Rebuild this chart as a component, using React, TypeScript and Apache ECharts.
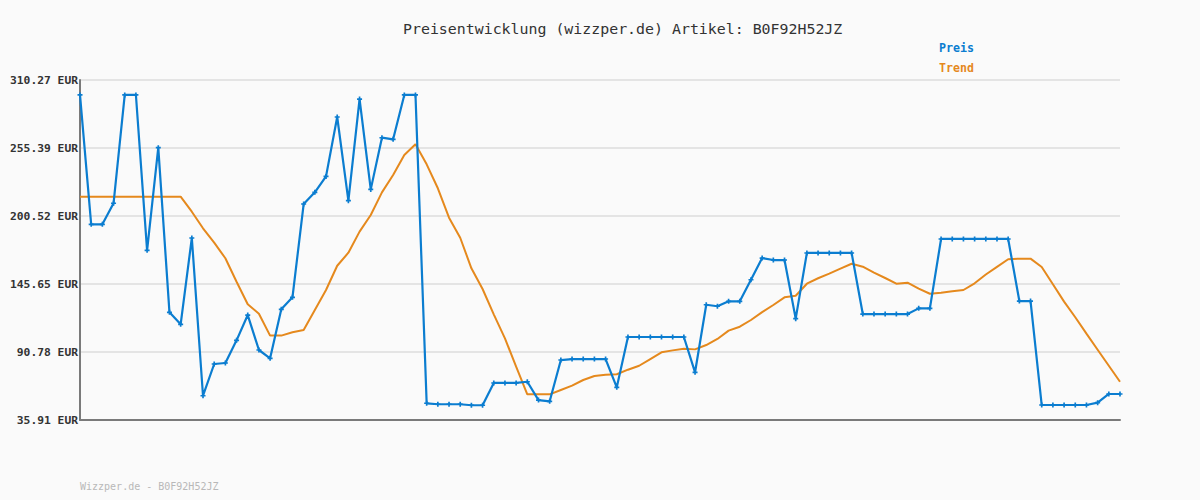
import React, { useEffect, useRef } from "react";
import * as echarts from "echarts";

const preis = [
  298.2, 193.8, 193.8, 210.8, 298.2, 298.2, 172.8, 255.7, 122.8, 113.1,
  182.8, 55.5, 81.1, 81.9, 100.2, 120.6, 92.4, 85.7, 125.2, 134.9,
  210.2, 219.6, 232.5, 280.4, 212.9, 294.9, 222.0, 263.7, 262.4, 298.2,
  298.2, 49.4, 48.6, 48.6, 48.6, 47.8, 47.8, 65.8, 65.8, 65.8,
  66.8, 52.0, 51.0, 84.3, 85.1, 85.1, 85.1, 85.1, 62.3, 102.9,
  102.9, 102.9, 102.9, 102.9, 102.9, 74.4, 128.9, 127.7, 131.7, 131.7,
  149.1, 166.6, 165.0, 165.0, 117.7, 170.7, 170.7, 170.7, 170.7, 170.7,
  121.4, 121.4, 121.4, 121.4, 121.4, 126.0, 126.0, 182.0, 182.0, 182.0,
  182.0, 182.0, 182.0, 182.0, 131.9, 131.9, 48.0, 48.0, 48.0, 48.0,
  48.0, 49.9, 56.9, 56.9,
];

const trend = [
  216.1, 216.1, 216.1, 216.1, 216.1, 216.1, 216.1, 216.1, 216.1, 216.1,
  204.0, 190.6, 179.0, 166.4, 147.5, 129.3, 121.7, 104.0, 104.0, 106.7,
  108.5, 124.7, 140.8, 160.4, 170.9, 187.9, 201.3, 219.6, 233.6, 249.8,
  258.4, 242.2, 222.9, 199.2, 183.0, 158.3, 141.6, 121.2, 101.8, 78.9,
  56.6, 56.6, 56.6, 60.1, 63.6, 68.2, 71.4, 72.5, 72.8, 76.5,
  79.7, 85.1, 90.5, 92.1, 93.4, 92.9, 96.4, 101.3, 108.0, 111.2,
  116.6, 123.0, 128.7, 134.9, 136.2, 145.9, 150.3, 154.0, 158.0, 162.0,
  159.6, 154.8, 150.5, 145.9, 146.7, 141.9, 137.8, 138.6, 139.8, 140.8,
  146.2, 153.3, 159.5, 165.6, 166.1, 166.1, 159.4, 145.4, 131.4, 118.8,
  105.6, 92.6, 79.7, 66.8,
];

const categories = preis.map((_, i) => String(i + 1));

const yTickLabels = ["35.91", "90.78", "145.65", "200.52", "255.39", "310.27"];
const yMin = 35.91;
const yMax = 310.27;
const yStep = (yMax - yMin) / (yTickLabels.length - 1);

const BLUE = "#0b7dd0";
const ORANGE = "#e5891d";
const MONO = "'DejaVu Sans Mono', monospace";

export default function App() {
  const ref = useRef<HTMLDivElement>(null);

  useEffect(() => {
    if (!ref.current) return;
    const chart = echarts.init(ref.current, undefined, { renderer: "svg" });
    chart.setOption({
      animation: false,
      backgroundColor: "#fafafa",
      title: {
        text: "Preisentwicklung (wizzper.de) Artikel: B0F92H52JZ",
        left: 398,
        top: 16,
        textStyle: {
          fontFamily: MONO,
          fontSize: 14.9,
          fontWeight: "normal",
          color: "#333333",
        },
      },
      legend: {
        orient: "vertical",
        left: 934,
        top: 36,
        itemGap: 8,
        itemWidth: 0,
        itemHeight: 13,
        icon: "none",
        selectedMode: false,
        data: [
          { name: "Preis", textStyle: { color: BLUE } },
          { name: "Trend", textStyle: { color: ORANGE } },
        ],
        textStyle: {
          fontFamily: MONO,
          fontSize: 11.6,
          fontWeight: "bold",
          padding: [0, 0, 0, -5],
        },
      },
      graphic: [
        {
          type: "text",
          left: 80,
          top: 481,
          style: {
            text: "Wizzper.de - B0F92H52JZ",
            fontFamily: MONO,
            fontSize: 10,
            fill: "#b8b8b8",
          },
        },
      ],
      grid: { left: 80, right: 80, top: 80, bottom: 80, containLabel: false },
      xAxis: {
        type: "category",
        data: categories,
        boundaryGap: false,
        axisLine: { show: true, lineStyle: { color: "#7a7a7a", width: 2 } },
        axisTick: { show: false },
        axisLabel: { show: false },
        splitLine: { show: false },
      },
      yAxis: {
        type: "value",
        min: yMin,
        max: yMax,
        interval: yStep,
        axisLine: { show: true, lineStyle: { color: "#7a7a7a", width: 2 } },
        axisTick: { show: false },
        splitLine: { show: true, lineStyle: { color: "#e4e4e4", width: 2 } },
        axisLabel: {
          margin: 2,
          fontFamily: MONO,
          fontSize: 11.3,
          fontWeight: "bold",
          color: "#333333",
          formatter: (v: number) => {
            const i = Math.round((v - yMin) / yStep);
            return (yTickLabels[i] ?? v.toFixed(2)) + " EUR";
          },
        },
      },
      series: [
        {
          name: "Preis",
          type: "line",
          data: preis,
          symbol: "path://M2,0H4V2H6V4H4V6H2V4H0V2H2Z",
          symbolSize: 5,
          showSymbol: true,
          lineStyle: { color: BLUE, width: 2.2 },
          itemStyle: { color: BLUE },
          z: 3,
        },
        {
          name: "Trend",
          type: "line",
          data: trend,
          symbol: "none",
          lineStyle: { color: ORANGE, width: 2 },
          itemStyle: { color: ORANGE },
          z: 2,
        },
      ],
    });
    return () => chart.dispose();
  }, []);

  return (
    <div
      ref={ref}
      style={{ position: "fixed", left: 0, top: 0, width: 1200, height: 500 }}
    />
  );
}
